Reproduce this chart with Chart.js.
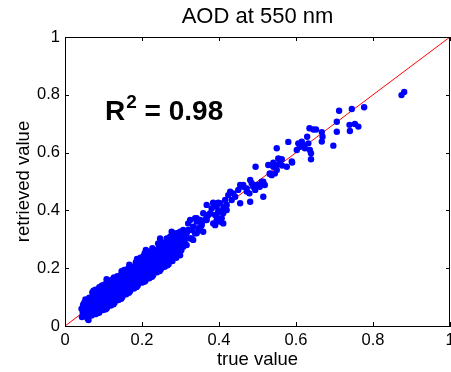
<!DOCTYPE html>
<html>
<head>
<meta charset="utf-8">
<title>AOD at 550 nm</title>
<script src="https://cdn.jsdelivr.net/npm/chart.js@4/dist/chart.umd.min.js"></script>
<style>
  html, body { margin: 0; padding: 0; background: #fff; }
  canvas { display: block; }
</style>
</head>
<body>
<canvas id="chart" width="451" height="372"></canvas>
<script>
// Chart text
const chartTitle = 'AOD at 550 nm';
const xLabel = 'true value';
const yLabel = 'retrieved value';
const rSquared = '0.98';

// Axis ticks (both axes run 0..1)
const tickValues = [0, 0.2, 0.4, 0.6, 0.8, 1];

// [true value, retrieved value]
// dense cloud at low AOD
const lowAod = [
  [0.044,0.031],[0.046,0.046],[0.043,0.060],[0.047,0.074],[0.061,0.021],
  [0.051,0.036],[0.049,0.052],[0.052,0.066],[0.050,0.081],[0.053,0.092],
  [0.058,0.027],[0.061,0.043],[0.059,0.057],[0.062,0.070],[0.060,0.085],[0.063,0.098],
  [0.069,0.036],[0.071,0.051],[0.068,0.064],[0.072,0.079],[0.070,0.093],[0.073,0.106],[0.071,0.116],
  [0.079,0.041],[0.081,0.056],[0.078,0.071],[0.082,0.086],[0.080,0.100],[0.083,0.114],[0.079,0.126],
  [0.089,0.047],[0.091,0.063],[0.088,0.077],[0.092,0.093],[0.090,0.107],[0.093,0.121],[0.089,0.134],
  [0.099,0.055],[0.102,0.070],[0.098,0.086],[0.101,0.100],[0.103,0.115],[0.100,0.131],[0.104,0.145],
  [0.109,0.062],[0.112,0.078],[0.108,0.092],[0.111,0.108],[0.113,0.122],[0.110,0.137],[0.112,0.151],
  [0.119,0.071],[0.122,0.086],[0.118,0.101],[0.121,0.115],[0.123,0.131],[0.120,0.146],[0.122,0.160],
  [0.129,0.081],[0.132,0.095],[0.128,0.110],[0.131,0.126],[0.133,0.140],[0.130,0.155],[0.127,0.168],
  [0.139,0.090],[0.142,0.104],[0.138,0.119],[0.141,0.133],[0.143,0.147],[0.140,0.161],[0.144,0.176],
  [0.149,0.100],[0.152,0.115],[0.148,0.130],[0.151,0.146],[0.153,0.160],[0.150,0.176],[0.147,0.190],
  [0.159,0.110],[0.162,0.126],[0.158,0.140],[0.161,0.156],[0.163,0.170],[0.160,0.186],[0.164,0.199],
  [0.169,0.120],[0.172,0.135],[0.168,0.151],[0.171,0.165],[0.173,0.181],[0.170,0.196],[0.167,0.212],
  [0.179,0.130],[0.182,0.146],[0.178,0.160],[0.181,0.176],[0.183,0.190],[0.180,0.206],[0.184,0.221],
  [0.189,0.140],[0.192,0.155],[0.188,0.171],[0.191,0.185],[0.193,0.201],[0.190,0.216],[0.187,0.232],
  [0.199,0.150],[0.202,0.166],[0.198,0.180],[0.201,0.196],[0.203,0.211],[0.200,0.226],[0.204,0.242],
  [0.209,0.157],[0.212,0.172],[0.208,0.188],[0.211,0.205],[0.213,0.220],[0.210,0.236],[0.207,0.252],
  [0.219,0.165],[0.222,0.181],[0.218,0.197],[0.221,0.213],[0.223,0.230],[0.220,0.246],[0.224,0.259],
  [0.229,0.176],[0.232,0.191],[0.228,0.206],[0.231,0.222],[0.233,0.238],[0.230,0.255],[0.227,0.269],
  [0.239,0.186],[0.242,0.200],[0.238,0.216],[0.241,0.232],[0.243,0.248],[0.240,0.264],[0.244,0.279],
  [0.249,0.196],[0.252,0.212],[0.248,0.228],[0.251,0.244],[0.253,0.260],[0.250,0.276],
  [0.259,0.205],[0.262,0.222],[0.258,0.238],[0.261,0.254],[0.263,0.270],[0.260,0.289],
  [0.269,0.214],[0.272,0.232],[0.268,0.250],[0.271,0.266],[0.273,0.282],[0.270,0.301],
  [0.279,0.225],[0.282,0.242],[0.278,0.260],[0.281,0.278],[0.283,0.295],[0.280,0.309],
  [0.289,0.236],[0.292,0.254],[0.288,0.272],[0.291,0.290],[0.293,0.317],
  [0.299,0.245],[0.302,0.262],[0.298,0.281],[0.301,0.300],[0.303,0.325],
  [0.210,0.263],[0.108,0.162],
  [0.055,0.072],[0.066,0.049],[0.075,0.088],[0.085,0.064],[0.095,0.112],[0.105,0.082],[0.115,0.128],
  [0.125,0.096],[0.135,0.150],[0.145,0.112],[0.155,0.168],[0.165,0.132],[0.175,0.188],[0.185,0.152],
  [0.195,0.208],[0.205,0.174],[0.215,0.228],[0.225,0.196],[0.235,0.244],[0.245,0.214],[0.255,0.252],
  [0.265,0.232],[0.275,0.272],[0.285,0.250],[0.295,0.300],[0.074,0.122],[0.096,0.140],[0.117,0.155],
  [0.136,0.172],[0.154,0.194],[0.176,0.204],[0.196,0.236],[0.216,0.250],[0.236,0.262],[0.086,0.045],
  [0.106,0.058],[0.126,0.075],[0.146,0.094],[0.166,0.115],[0.186,0.135],[0.206,0.153],[0.226,0.170],
  [0.246,0.190],[0.266,0.210]
];

// sparser points between 0.25 and 0.47
const midAod = [
  [0.247,0.303],[0.242,0.286],[0.255,0.286],[0.294,0.303],[0.286,0.298],[0.273,0.309],[0.264,0.303],
  [0.307,0.274],[0.303,0.280],[0.312,0.286],[0.333,0.298],[0.329,0.303],[0.299,0.326],[0.303,0.315],
  [0.290,0.321],[0.281,0.321],[0.277,0.326],[0.307,0.332],[0.312,0.303],[0.316,0.321],[0.320,0.332],
  [0.325,0.367],[0.325,0.303],[0.316,0.280],[0.333,0.344],[0.338,0.321],[0.342,0.361],[0.346,0.338],
  [0.355,0.355],[0.364,0.367],[0.368,0.378],[0.377,0.390],[0.381,0.407],[0.385,0.425],[0.390,0.384],
  [0.394,0.413],[0.398,0.396],[0.403,0.425],[0.385,0.355],[0.394,0.367],[0.407,0.373],[0.411,0.390],
  [0.411,0.407],[0.416,0.436],[0.420,0.419],[0.424,0.453],[0.429,0.465],[0.433,0.436],[0.437,0.459],
  [0.442,0.447],[0.450,0.471],[0.455,0.488],[0.455,0.425],[0.463,0.482],[0.472,0.465],
  [0.342,0.373],[0.351,0.367],[0.338,0.373],[0.355,0.349],[0.320,0.355],[0.342,0.321],[0.351,0.332],
  [0.359,0.326],[0.329,0.332],[0.316,0.326],[0.368,0.419],[0.385,0.427],[0.398,0.427],[0.359,0.390],
  [0.372,0.384],[0.368,0.367],[0.390,0.349],[0.403,0.361],[0.411,0.355],[0.416,0.413],[0.420,0.401],
  [0.403,0.396],[0.394,0.384]
];

// high AOD points
const highAod = [
  [0.481,0.505],[0.485,0.494],[0.489,0.482],[0.494,0.471],[0.481,0.430],[0.502,0.488],[0.506,0.482],
  [0.511,0.499],[0.519,0.488],[0.515,0.447],[0.495,0.551],[0.528,0.557],[0.532,0.528],[0.537,0.522],
  [0.541,0.551],[0.545,0.528],[0.550,0.540],[0.550,0.557],[0.554,0.580],[0.558,0.563],[0.563,0.577],
  [0.564,0.555],[0.541,0.565],[0.550,0.615],[0.576,0.551],[0.589,0.569],[0.580,0.637],[0.590,0.566],
  [0.602,0.609],[0.606,0.632],[0.610,0.620],[0.615,0.638],[0.619,0.626],[0.623,0.615],[0.632,0.632],
  [0.636,0.609],[0.639,0.598],[0.639,0.577],[0.629,0.655],[0.635,0.684],[0.645,0.680],[0.652,0.680],
  [0.667,0.671],[0.669,0.655],[0.667,0.638],[0.697,0.624],[0.706,0.707],[0.706,0.672],[0.712,0.745],
  [0.739,0.696],[0.740,0.675],[0.745,0.751],[0.753,0.699],[0.762,0.690],[0.777,0.757],
  [0.874,0.799],[0.881,0.810],
  [0.532,0.526],[0.515,0.499],[0.498,0.488],[0.472,0.476],[0.479,0.459],[0.463,0.488]
];

// 1:1 reference line
const oneToOne = [[0, 0], [1, 1]];

const FONT = '"Liberation Sans", Arial, sans-serif';
const TICK_LEN = 4;

const toXY = arr => arr.map(p => ({ x: p[0], y: p[1] }));

// draws the closed box, inward ticks, the title and the R^2 text
const matlabAxes = {
  id: 'matlabAxes',
  afterDatasetsDraw(chart) {
    const { ctx, chartArea: a, scales: { x, y } } = chart;
    ctx.save();
    ctx.strokeStyle = '#000';
    ctx.lineWidth = 1;
    ctx.beginPath();
    ctx.moveTo(a.left, a.top + 0.5);
    ctx.lineTo(a.right, a.top + 0.5);
    ctx.moveTo(a.right - 0.5, a.top);
    ctx.lineTo(a.right - 0.5, a.bottom);
    tickValues.forEach(v => {
      const px = Math.round(x.getPixelForValue(v)) + 0.5;
      ctx.moveTo(px, a.bottom);
      ctx.lineTo(px, a.bottom - TICK_LEN);
      ctx.moveTo(px, a.top);
      ctx.lineTo(px, a.top + TICK_LEN);
      const py = Math.round(y.getPixelForValue(v)) + 0.5;
      ctx.moveTo(a.left, py);
      ctx.lineTo(a.left + TICK_LEN, py);
      ctx.moveTo(a.right, py);
      ctx.lineTo(a.right - TICK_LEN, py);
    });
    ctx.stroke();

    // title, centred over the plot box
    ctx.fillStyle = '#000';
    ctx.font = '22px ' + FONT;
    ctx.textAlign = 'center';
    ctx.textBaseline = 'alphabetic';
    ctx.fillText(chartTitle, (a.left + a.right) / 2, 23);

    // R^2 = 0.98
    let tx = x.getPixelForValue(0.104);
    const ty = y.getPixelForValue(0.713);
    ctx.textAlign = 'left';
    ctx.font = 'bold 28px ' + FONT;
    ctx.fillText('R', tx, ty);
    tx += ctx.measureText('R').width + 1;
    ctx.font = 'bold 19px ' + FONT;
    ctx.fillText('2', tx, ty - 12);
    tx += ctx.measureText('2').width;
    ctx.font = 'bold 28px ' + FONT;
    ctx.fillText(' = ' + rSquared, tx, ty);
    ctx.restore();
  }
};

const ctx = document.getElementById('chart').getContext('2d');
new Chart(ctx, {
  type: 'scatter',
  data: {
    datasets: [
      {
        label: 'retrievals',
        data: toXY(lowAod.concat(midAod, highAod)),
        backgroundColor: '#0000ff',
        borderWidth: 0,
        pointRadius: 3.2,
        pointHoverRadius: 3.2
      },
      {
        label: '1:1',
        data: toXY(oneToOne),
        showLine: true,
        borderColor: '#ff0000',
        borderWidth: 1,
        pointRadius: 0
      }
    ]
  },
  options: {
    responsive: false,
    animation: false,
    devicePixelRatio: 1,
    layout: { autoPadding: false, padding: { left: 0, right: 1, top: 37, bottom: 0 } },
    plugins: {
      legend: { display: false },
      tooltip: { enabled: false },
      title: { display: false }
    },
    scales: {
      x: {
        type: 'linear',
        min: 0,
        max: 1,
        afterBuildTicks: s => { s.ticks = tickValues.map(v => ({ value: v })); },
        afterFit: s => { s.height = 46; s.paddingLeft = 0; s.paddingRight = 0; },
        grid: { display: false, drawTicks: false },
        border: { display: true, color: '#000', width: 1 },
        ticks: {
          color: '#000',
          padding: 5,
          maxRotation: 0,
          autoSkip: false,
          font: { family: FONT, size: 16.5 },
          callback: v => String(v)
        },
        title: {
          display: true,
          text: xLabel,
          color: '#000',
          font: { family: FONT, size: 18.5 },
          padding: { top: 0, bottom: 1 }
        }
      },
      y: {
        type: 'linear',
        min: 0,
        max: 1,
        afterBuildTicks: s => { s.ticks = tickValues.map(v => ({ value: v })); },
        afterFit: s => { s.width = 65; s.paddingTop = 0; s.paddingBottom = 0; },
        grid: { display: false, drawTicks: false },
        border: { display: true, color: '#000', width: 1 },
        ticks: {
          color: '#000',
          padding: 5,
          autoSkip: false,
          font: { family: FONT, size: 16.5 },
          callback: v => String(v)
        },
        title: {
          display: true,
          text: yLabel,
          color: '#000',
          font: { family: FONT, size: 18.5 },
          padding: { top: 13, bottom: 0 }
        }
      }
    }
  },
  plugins: [matlabAxes]
});
</script>
</body>
</html>
